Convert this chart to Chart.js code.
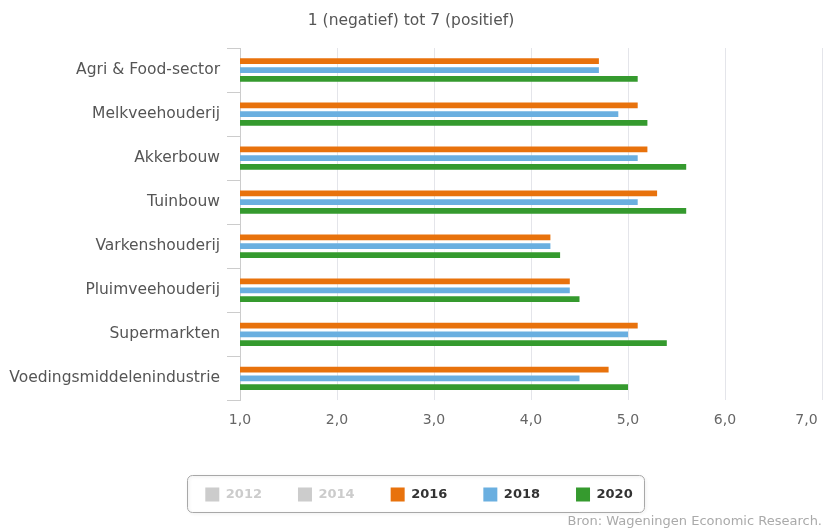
<!DOCTYPE html>
<html>
<head>
<meta charset="utf-8">
<script src="https://cdn.jsdelivr.net/npm/chart.js@4"></script>
<style>
html,body{margin:0;padding:0;background:#fff;}
#wrap{width:823px;height:529px;}
</style>
</head>
<body>
<div id="wrap"><canvas id="c" width="823" height="529"></canvas></div>
<script>
const categories = [
  'Agri & Food-sector',
  'Melkveehouderij',
  'Akkerbouw',
  'Tuinbouw',
  'Varkenshouderij',
  'Pluimveehouderij',
  'Supermarkten',
  'Voedingsmiddelenindustrie'
];
const seriesNames = ['2012', '2014', '2016', '2018', '2020'];
const values2012 = []; // hidden in the reference
const values2014 = []; // hidden in the reference
const values2016 = [4.7, 5.1, 5.2, 5.3, 4.2, 4.4, 5.1, 4.8];
const values2018 = [4.7, 4.9, 5.1, 5.1, 4.2, 4.4, 5.0, 4.5];
const values2020 = [5.1, 5.2, 5.6, 5.6, 4.3, 4.5, 5.4, 5.0];
const xTicks = [1, 2, 3, 4, 5, 6, 7];
const titleText = '1 (negatief) tot 7 (positief)';
const sourceText = 'Bron: Wageningen Economic Research.';

const FONT = "'DejaVu Sans', Verdana, sans-serif";

const legendBorder = {
  id: 'legendBorder',
  afterLayout(chart) {
    chart.legend.left += 8;
    chart.legend.right += 8;
  },
  afterDraw(chart) {
    const hb = chart.legend && chart.legend.legendHitBoxes;
    if (!hb || !hb.length) return;
    let l = Infinity, r = -Infinity, t = Infinity;
    hb.forEach(b => { l = Math.min(l, b.left); r = Math.max(r, b.left + b.width); t = Math.min(t, b.top); });
    const ctx = chart.ctx;
    ctx.save();
    ctx.shadowColor = 'rgba(0,0,0,0.12)';
    ctx.shadowBlur = 3;
    ctx.shadowOffsetX = 1;
    ctx.shadowOffsetY = 1;
    ctx.strokeStyle = '#a8a8a8';
    ctx.lineWidth = 1;
    ctx.beginPath();
    ctx.roundRect(Math.round(l - 18) + 0.5, Math.round(t - 12) + 0.5, Math.round(r - l + 30), 37, 5);
    ctx.stroke();
    ctx.restore();
  }
};

new Chart(document.getElementById('c'), {
  type: 'bar',
  data: {
    labels: categories,
    datasets: [
      { label: seriesNames[0], data: values2012, backgroundColor: '#cccccc', hidden: true },
      { label: seriesNames[1], data: values2014, backgroundColor: '#cccccc', hidden: true },
      { label: seriesNames[2], data: values2016, backgroundColor: '#E8720C' },
      { label: seriesNames[3], data: values2018, backgroundColor: '#6AAFE0' },
      { label: seriesNames[4], data: values2020, backgroundColor: '#359A2E' }
    ]
  },
  options: {
    indexAxis: 'y',
    responsive: false,
    animation: false,
    devicePixelRatio: 1,
    layout: { padding: { left: 0, right: 1, top: 0, bottom: 0 } },
    datasets: {
      bar: { categoryPercentage: 0.6, barPercentage: 0.65, borderWidth: 0 }
    },
    scales: {
      x: {
        type: 'linear',
        min: 1,
        max: 7,
        afterBuildTicks(scale) { scale.ticks = xTicks.map(v => ({ value: v })); },
        afterFit(scale) { scale.paddingRight = 0; scale.paddingLeft = 0; scale.height = 51; },
        border: { display: false },
        grid: { color: '#e4e5ea', lineWidth: 1, drawTicks: false },
        ticks: {
          color: '#666',
          font: { family: FONT, size: 14 },
          padding: 12,
          maxRotation: 0,
          autoSkip: false,
          callback: v => v.toFixed(1).replace('.', ',') + (v === 7 ? '       ' : '')
        }
      },
      y: {
        afterFit(scale) { scale.width = 240; },
        border: { display: true, color: '#cccccc' },
        grid: { drawOnChartArea: false, drawTicks: true, tickLength: 13, color: '#cccccc', offset: true },
        ticks: { color: '#555', font: { family: FONT, size: 15.5 }, padding: 7 }
      }
    },
    plugins: {
      title: {
        display: true,
        text: titleText,
        color: '#555',
        font: { family: FONT, size: 15.5, weight: 'normal' },
        padding: { top: 12, bottom: 17.4 }
      },
      subtitle: {
        display: true,
        position: 'bottom',
        align: 'end',
        text: sourceText,
        color: '#aaaaaa',
        font: { family: FONT, size: 13, weight: 'normal' },
        padding: { top: 2, bottom: 0 }
      },
      legend: {
        position: 'bottom',
        onClick: null,
        labels: {
          boxWidth: 14,
          boxHeight: 14,
          padding: 36,
          font: { family: FONT, size: 13, weight: 'bold' },
          generateLabels(chart) {
            return chart.data.datasets.map((ds, i) => ({
              text: ds.label,
              fillStyle: ds.hidden ? '#cccccc' : ds.backgroundColor,
              strokeStyle: 'rgba(0,0,0,0)',
              lineWidth: 0,
              hidden: false,
              fontColor: ds.hidden ? '#cccccc' : '#333333',
              datasetIndex: i
            }));
          }
        }
      },
      tooltip: { enabled: false }
    }
  },
  plugins: [legendBorder]
});
</script>
</body>
</html>
